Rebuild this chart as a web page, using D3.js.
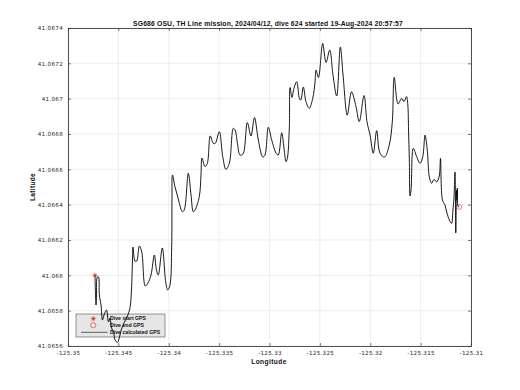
<!DOCTYPE html>
<html><head><meta charset="utf-8">
<script src="https://cdn.jsdelivr.net/npm/d3@7"></script>
<style>body{margin:0;background:#fff}svg{display:block}text{font-family:"Liberation Sans",Arial,sans-serif}</style>
</head><body>
<script>
const titleText = "SG686 OSU, TH Line mission, 2024/04/12, dive 624 started 19-Aug-2024 20:57:57";
const xTicks = [-125.35,-125.345,-125.34,-125.335,-125.33,-125.325,-125.32,-125.315,-125.31];
const xTickLabels = ["-125.35","-125.345","-125.34","-125.335","-125.33","-125.325","-125.32","-125.315","-125.31"];
const yTicks = [41.0656,41.0658,41.066,41.0662,41.0664,41.0666,41.0668,41.067,41.0672,41.0674];
const yTickLabels = ["41.0656","41.0658","41.066","41.0662","41.0664","41.0666","41.0668","41.067","41.0672","41.0674"];
const legendLabels = ["Dive start GPS","Dive end GPS","Dive calculated GPS"];
const lon = [-125.34732,-125.34722,-125.34717,-125.34715,-125.34707,-125.34697,-125.34689,-125.34672,-125.34658,-125.34643,
-125.34618,-125.34598,-125.34583,-125.34568,-125.34548,-125.34533,-125.34509,-125.34489,-125.34469,-125.34439,
-125.34414,-125.34385,-125.34370,-125.34360,-125.34355,-125.34335,-125.34318,-125.34292,-125.34268,-125.34233,
-125.34206,-125.34176,-125.34143,-125.34122,-125.34104,-125.34064,-125.34030,-125.34010,-125.33988,-125.33971,
-125.33968,-125.33963,-125.33938,-125.33921,-125.33898,-125.33865,-125.33846,-125.33806,-125.33779,-125.33756,
-125.33739,-125.33697,-125.33680,-125.33670,-125.33640,-125.33617,-125.33588,-125.33558,-125.33538,-125.33498,
-125.33464,-125.33432,-125.33399,-125.33359,-125.33342,-125.33316,-125.33293,-125.33263,-125.33220,-125.33184,
-125.33149,-125.33111,-125.33067,-125.33045,-125.33012,-125.32978,-125.32935,-125.32913,-125.32879,-125.32856,
-125.32836,-125.32823,-125.32803,-125.32796,-125.32777,-125.32757,-125.32730,-125.32702,-125.32690,-125.32664,
-125.32638,-125.32605,-125.32571,-125.32548,-125.32538,-125.32514,-125.32472,-125.32439,-125.32402,-125.32370,
-125.32333,-125.32297,-125.32270,-125.32228,-125.32186,-125.32141,-125.32109,-125.32062,-125.32032,-125.32002,
-125.31970,-125.31936,-125.31903,-125.31858,-125.31811,-125.31781,-125.31762,-125.31724,-125.31688,-125.31665,
-125.31640,-125.31627,-125.31620,-125.31612,-125.31605,-125.31595,-125.31573,-125.31539,-125.31506,-125.31479,
-125.31456,-125.31434,-125.31412,-125.31390,-125.31372,-125.31357,-125.31340,-125.31315,-125.31303,-125.31283,
-125.31258,-125.31241,-125.31215,-125.31193,-125.31179,-125.31169,-125.31159,-125.31154,-125.31151,-125.31144,
-125.31139,-125.31136,-125.31134,-125.31129,-125.31116];
const lat = [41.065996,41.065832,41.065883,41.065974,41.065991,41.065991,41.065889,41.065832,41.065747,41.065775,
41.065804,41.065736,41.065758,41.065702,41.065679,41.065634,41.065620,41.065651,41.065696,41.065736,
41.065764,41.065815,41.065917,41.066087,41.066160,41.066081,41.066081,41.066166,41.066132,41.065940,
41.065957,41.066002,41.066115,41.066030,41.066002,41.066155,41.065962,41.065917,41.065945,41.066160,
41.066426,41.066568,41.066500,41.066466,41.066415,41.066360,41.066370,41.066578,41.066455,41.066360,
41.066370,41.066445,41.066568,41.066664,41.066615,41.066634,41.066789,41.066747,41.066747,41.066813,
41.066671,41.066600,41.066634,41.066832,41.066823,41.066738,41.066681,41.066687,41.066865,41.066789,
41.066893,41.066766,41.066670,41.066681,41.066838,41.066766,41.066692,41.066681,41.066807,41.066719,
41.066643,41.066662,41.066841,41.067063,41.067007,41.067059,41.067096,41.066998,41.066992,41.067066,
41.066983,41.066945,41.067002,41.067094,41.067162,41.067120,41.067312,41.067205,41.067275,41.067134,
41.067015,41.067292,41.067134,41.066907,41.067039,41.066954,41.066870,41.067018,41.066868,41.066794,
41.066691,41.066819,41.066691,41.066670,41.066738,41.066870,41.067121,41.066970,41.067002,41.066983,
41.067012,41.066964,41.066823,41.066653,41.066449,41.066483,41.066719,41.066671,41.066634,41.066671,
41.066794,41.066709,41.066551,41.066521,41.066540,41.066540,41.066528,41.066562,41.066662,41.066426,
41.066398,41.066358,41.066313,41.066294,41.066370,41.066438,41.066585,41.066426,41.066240,41.066483,
41.066426,41.066494,41.066426,41.066392,41.066387];
const startGPS = [-125.34732, 41.066];
const endGPS = [-125.31116, 41.066387];

const W=520,H=390, L=68,R=471,T=28,B=346;
const svg=d3.select("body").append("svg").attr("width",W).attr("height",H);
const x=d3.scaleLinear().domain([-125.35,-125.31]).range([L,R]);
const y=d3.scaleLinear().domain([41.0656,41.0674]).range([B,T]);
const axisCol="#262626";

// grid
svg.append("g").selectAll("line").data(xTicks).join("line")
 .attr("x1",d=>x(d)).attr("x2",d=>x(d)).attr("y1",T).attr("y2",B).attr("stroke","#e3e3e3").attr("stroke-width",0.6);
svg.append("g").selectAll("line").data(yTicks).join("line")
 .attr("y1",d=>y(d)).attr("y2",d=>y(d)).attr("x1",L).attr("x2",R).attr("stroke","#e3e3e3").attr("stroke-width",0.6);

// axes
svg.append("g").attr("transform",`translate(0,${B})`)
 .call(d3.axisBottom(x).tickValues(xTicks).tickFormat((d,i)=>xTickLabels[i]).tickSizeInner(-3).tickSizeOuter(0).tickPadding(5));
svg.append("g").attr("transform",`translate(${L},0)`)
 .call(d3.axisLeft(y).tickValues(yTicks).tickFormat((d,i)=>yTickLabels[i]).tickSizeInner(-3).tickSizeOuter(0).tickPadding(5));
svg.append("g").attr("transform",`translate(0,${T})`)
 .call(d3.axisTop(x).tickValues(xTicks).tickFormat("").tickSizeInner(-3).tickSizeOuter(0));
svg.append("g").attr("transform",`translate(${R},0)`)
 .call(d3.axisRight(y).tickValues(yTicks).tickFormat("").tickSizeInner(-3).tickSizeOuter(0));
svg.selectAll(".domain").attr("stroke",axisCol).attr("stroke-width",0.8);
svg.selectAll(".tick line").attr("stroke",axisCol).attr("stroke-width",0.6);
svg.selectAll(".tick text").attr("fill",axisCol).style("font-size","5.6px").style("font-family","'DejaVu Sans',sans-serif").style("letter-spacing","0.3px");

// legend box (below line)
const lg={x:76,y:314,w:89,h:23};
svg.append("rect").attr("x",lg.x).attr("y",lg.y).attr("width",lg.w).attr("height",lg.h)
 .attr("fill","#e6e6e6").attr("stroke","#333").attr("stroke-width",0.5);

// line
const pts=lon.map((d,i)=>[d,lat[i]]);
svg.append("path").datum(pts).attr("fill","none").attr("stroke","#000").attr("stroke-width",0.9)
 .attr("stroke-linejoin","round")
 .attr("d",d3.line().x(d=>x(d[0])).y(d=>y(d[1])).curve(d3.curveCatmullRom.alpha(0.5)));

// start star
function star(g,cx,cy,s,col){
 g.append("path").attr("d",`M${cx-s},${cy}H${cx+s}M${cx},${cy-s}V${cy+s}M${cx-s*0.7},${cy-s*0.7}L${cx+s*0.7},${cy+s*0.7}M${cx-s*0.7},${cy+s*0.7}L${cx+s*0.7},${cy-s*0.7}`)
  .attr("stroke",col).attr("stroke-width",0.6).attr("fill","none");
}
star(svg,x(startGPS[0]),y(startGPS[1]),2.5,"#e00000");
svg.append("circle").attr("cx",x(endGPS[0])).attr("cy",y(endGPS[1])).attr("r",2.5).attr("fill","none").attr("stroke","#e00000").attr("stroke-width",0.5);

// legend entries
star(svg,93.3,318.7,2.5,"#e00000");
svg.append("circle").attr("cx",93.3).attr("cy",325.3).attr("r",2.6).attr("fill","none").attr("stroke","#e00000").attr("stroke-width",0.5);
svg.append("line").attr("x1",81).attr("x2",107.5).attr("y1",332.3).attr("y2",332.3).attr("stroke","#000").attr("stroke-width",0.6);
svg.append("g").selectAll("text").data(legendLabels).join("text")
 .attr("x",110).attr("y",(d,i)=>318+i*7.2).attr("dy","0.35em")
 .style("font-size","5.2px").style("font-weight","bold").attr("fill","#111").text(d=>d);

// title and labels
svg.append("text").attr("x",268).attr("y",24).attr("text-anchor","middle").attr("dy","0.35em")
 .style("font-size","6.8px").style("font-weight","bold").attr("fill","#111").style("letter-spacing","0.15px").text(titleText);
svg.append("text").attr("x",269).attr("y",362).attr("text-anchor","middle").attr("dy","0.35em")
 .style("font-size","6.6px").style("font-weight","bold").attr("fill","#111").style("letter-spacing","0.4px").text("Longitude");
svg.append("text").attr("transform","translate(33,187) rotate(-90)").attr("text-anchor","middle").attr("dy","0.35em")
 .style("font-size","6.6px").style("font-weight","bold").attr("fill","#111").style("letter-spacing","0.3px").text("Latitude");
</script>
</body></html>
